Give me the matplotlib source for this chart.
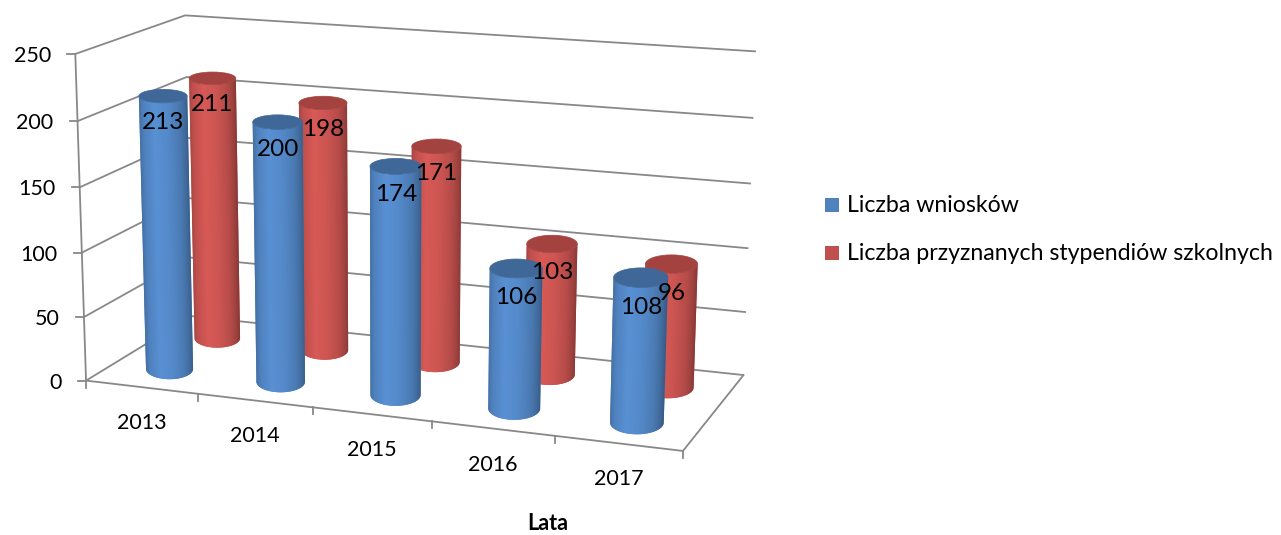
import numpy as np
import matplotlib.pyplot as plt
from matplotlib.patches import Polygon, Rectangle, Ellipse
from matplotlib.colors import to_rgb

plt.rcParams['font.family'] = ['Lato', 'DejaVu Sans']

years = ['2013', '2014', '2015', '2016', '2017']
wnioski = [213, 200, 174, 106, 108]
stypendia = [211, 198, 171, 103, 96]
series_names = ['Liczba wniosków', 'Liczba przyznanych stypendiów szkolnych']
y_ticks = [0, 50, 100, 150, 200, 250]
axis_title = 'Lata'

BLUE, BLUE_CAP = '#4f81bd', '#3f6899'
RED, RED_CAP = '#c0504d', '#a4423f'
GRID = '#888888'

# corners of the 3d box: (category, depth, value) -> pixel where Excel put them
box = [
    ((0, 0, 0), (87, 380)), ((0, 0, 50), (84, 316)), ((0, 0, 250), (75, 54)),
    ((0, 1, 250), (185, 15)), ((0, 1, 200), (187, 77)), ((0, 1, 0), (191, 318)),
    ((5, 1, 250), (756, 52)), ((5, 1, 200), (753, 118)), ((5, 1, 50), (747, 312)),
    ((5, 1, 0), (743, 373)), ((5, 0, 0), (683, 452)),
    ((1, 0, 0), (197, 393.5)), ((2, 0, 0), (313, 407.5)),
    ((3, 0, 0), (432, 421.5)), ((4, 0, 0), (555, 436.5)),
]

# fit a perspective projection (DLT) to those corners
rows, rhs = [], []
for (u, w, v), (px, py) in box:
    z = v / 50
    rows.append([u, w, z, 1, 0, 0, 0, 0, -px * u, -px * w, -px * z]); rhs.append(px)
    rows.append([0, 0, 0, 0, u, w, z, 1, -py * u, -py * w, -py * z]); rhs.append(py)
m = np.linalg.lstsq(np.array(rows, float), np.array(rhs, float), rcond=None)[0]
M = np.append(m, 1).reshape(3, 4)


def proj(u, w, v):
    u, w, v = np.broadcast_arrays(np.asarray(u, float), np.asarray(w, float),
                                  np.asarray(v, float) / 50)
    h = M @ np.vstack([u.ravel(), w.ravel(), v.ravel(), np.ones(u.size)])
    return (h[0] / h[2]).reshape(u.shape), (h[1] / h[2]).reshape(u.shape)


fig = plt.figure(figsize=(12.81, 5.35), dpi=100)
ax = fig.add_axes([0, 0, 1, 1])
ax.axis('off')

n_cat = len(years)
vmax = y_ticks[-1]

# walls: gridlines on the left and back wall
for v in y_ticks:
    xs, ys = proj([0, 0, n_cat], [0, 1, 1], [v, v, v])
    ax.plot(xs, ys, color=GRID, lw=1.3, solid_capstyle='butt', zorder=1)
    x0, y0 = proj(0, 0, v)
    ax.plot([x0 - 8, x0], [y0, y0], color=GRID, lw=1.3, zorder=1)
    ax.text(x0 - 24, y0 + 2, str(v), ha='right', va='center', fontsize=15.5)

xs, ys = proj([0, 0], [0, 0], [0, vmax])
ax.plot(xs, ys, color=GRID, lw=1.3, zorder=1)
xs, ys = proj([0, n_cat, n_cat], [0, 0, 1], [0, 0, 0])
ax.plot(xs, ys, color=GRID, lw=1.3, zorder=1)
for i in range(n_cat + 1):
    x0, y0 = proj(i, 0, 0)
    ax.plot([x0, x0], [y0, y0 + 7], color=GRID, lw=1.3, zorder=1)
for i, yr in enumerate(years):
    x0, y0 = proj(i + 0.5, 0, 0)
    ax.text(x0, y0 + 36, yr, ha='center', va='center', fontsize=15.5)

ax.text(548, 524, axis_title, ha='center', va='center', fontsize=15.5,
        fontweight='bold')

r_u, r_w = 0.215, 0.15
shade_t = [0, 0.08, 0.3, 0.55, 0.8, 0.92, 1]
shade_f = [0.88, 1.0, 1.12, 1.07, 0.95, 0.83, 0.7]
zo = [3]


def cylinder(uc, wc, val, color, cap):
    xt, yt = proj(uc, wc, val)
    xb, yb = proj(uc, wc, 0)
    ex = proj([uc - r_u, uc + r_u], wc, [val, val])[0]
    at = (ex[1] - ex[0]) / 2
    ex = proj([uc - r_u, uc + r_u], wc, [0, 0])[0]
    ab = (ex[1] - ex[0]) / 2
    ey = proj(uc, [wc - r_w, wc + r_w], [val, val])[1]
    bt = (ey[0] - ey[1]) / 2
    ey = proj(uc, [wc - r_w, wc + r_w], [0, 0])[1]
    bb = (ey[0] - ey[1]) / 2
    th = np.linspace(0, np.pi, 91)
    bottom = np.column_stack([xb - ab * np.cos(th), yb + bb * np.sin(th)])
    top = np.column_stack([xt + at * np.cos(th), yt + bt * np.sin(th)])
    outline = np.vstack([bottom, top])
    base = np.array(to_rgb(color))
    body = Polygon(outline, closed=True, facecolor=base * 0.95, edgecolor='none',
                   zorder=zo[0])
    ax.add_patch(body)
    # horizontal shading between the two silhouettes
    x0, x1 = outline[:, 0].min() - 1, outline[:, 0].max() + 1
    y0, y1 = outline[:, 1].min() - 1, outline[:, 1].max() + 1
    gx, gy = np.meshgrid(np.linspace(x0, x1, 240), np.linspace(y0, y1, 240))
    s = (gy - yt) / (yb - yt)
    xl = (xt - at) + s * ((xb - ab) - (xt - at))
    xr = (xt + at) + s * ((xb + ab) - (xt + at))
    t = np.clip((gx - xl) / (xr - xl), 0, 1)
    f = np.interp(t, shade_t, shade_f)
    img = np.clip(base[None, None, :] * f[..., None], 0, 1)
    im = ax.imshow(img, extent=(x0, x1, y1, y0), origin='upper', aspect='auto',
                   interpolation='bilinear', zorder=zo[0] + 0.1)
    im.set_clip_path(body)
    ax.add_patch(Ellipse((xt, yt), 2 * at, 2 * bt, facecolor=cap, edgecolor=cap,
                         lw=0.5, zorder=zo[0] + 0.2))
    zo[0] += 1
    ax.text(xt, yt + bt + 20, str(val), ha='center', va='center', fontsize=17.5,
            zorder=100)


for i, val in enumerate(stypendia):
    cylinder(i + 0.5, 0.73, val, RED, RED_CAP)
for i, val in enumerate(wnioski):
    cylinder(i + 0.5, 0.26, val, BLUE, BLUE_CAP)

# legend
for k, (name, col) in enumerate(zip(series_names, [BLUE, RED])):
    yc = 205 + 48 * k
    ax.add_patch(Rectangle((825, yc - 7), 14, 14, facecolor=col, edgecolor='none'))
    ax.text(847, yc, name, ha='left', va='center', fontsize=16.7)

ax.set_xlim(0, 1281)
ax.set_ylim(535, 0)
fig.savefig('out.png', dpi=100)
